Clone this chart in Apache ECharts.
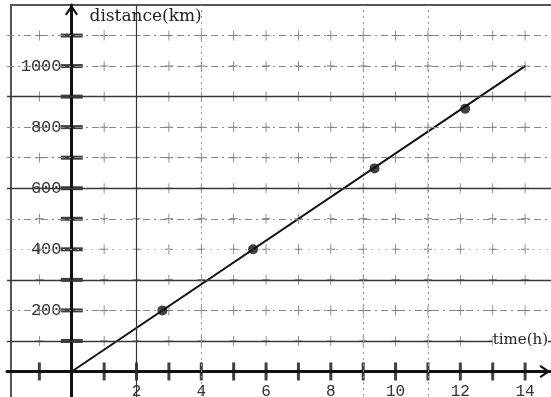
<!DOCTYPE html>
<html>
<head>
<meta charset="utf-8">
<script src="https://cdn.jsdelivr.net/npm/echarts@6/dist/echarts.min.js"></script>
<style>
html, body { margin: 0; padding: 0; background: #fff; }
#main { width: 551px; height: 397px; }
</style>
</head>
<body>
<div id="main"></div>
<script>
// axis ticks / labels
var timeTicks = [-1, 1, 2, 3, 4, 5, 6, 7, 8, 9, 10, 11, 12, 13, 14];
var timeLabels = [2, 4, 6, 8, 10, 12, 14];
var distTicks = [100, 200, 300, 400, 500, 600, 700, 800, 900, 1000, 1100];
var distLabels = [200, 400, 600, 800, 1000];
// grid look of the scan
var solidRows = [100, 300, 600, 900];
var faintRows = [400];
var solidCols = [2];
var dottedCols = [4, 9, 11];
// the line and its marked points
var lineTime = [0, 14];
var lineDist = [0, 1000];
var dotTime = [2.8, 5.6, 9.35, 12.15];
var dotDist = [200, 400, 665, 860];

var chart = echarts.init(document.getElementById('main'), null, { renderer: 'canvas' });

var crosses = [];
timeTicks.forEach(function (t) {
    distTicks.forEach(function (d) { crosses.push([t, d]); });
});

var gridLines = [];
distTicks.forEach(function (d) {
    var st;
    if (solidRows.indexOf(d) >= 0) st = { color: '#3a3a3a', width: 1.4, type: 'solid' };
    else if (faintRows.indexOf(d) >= 0) st = { color: '#bbb', width: 1, type: [2, 5] };
    else st = { color: '#888', width: 1, type: [7, 4, 2, 4] };
    gridLines.push({ yAxis: d, lineStyle: st });
});
solidCols.forEach(function (t) {
    gridLines.push({ xAxis: t, lineStyle: { color: '#333', width: 1.2, type: 'solid' } });
});
dottedCols.forEach(function (t) {
    gridLines.push({ xAxis: t, lineStyle: { color: '#999', width: 1, type: [2, 4] } });
});

var arrow = 'path://M0,9 L6,0 L12,9 L10.5,10.2 L6,3.6 L1.5,10.2 Z';

chart.setOption({
    animation: false,
    backgroundColor: '#fff',
    grid: { left: 7, right: 0, top: 5, bottom: -5, containLabel: false, outerBoundsMode: 'none' },
    xAxis: {
        type: 'value', min: -2, max: 14.8, interval: 1,
        position: 'bottom', offset: -30.5,
        axisLine: {
            onZero: false, lineStyle: { color: '#111', width: 3 },
            symbol: ['none', arrow], symbolSize: [14, 11], symbolOffset: [0, -6]
        },
        axisTick: { show: false },
        splitLine: { show: false },
        axisLabel: {
            margin: 12, fontFamily: 'Liberation Mono', fontSize: 16, color: '#333',
            formatter: function (v) { return timeLabels.indexOf(v) >= 0 ? String(v) : ''; }
        }
    },
    yAxis: {
        type: 'value', min: -100, max: 1200, interval: 100,
        position: 'left', offset: -64.5,
        name: 'distance(km)', nameLocation: 'end', nameGap: -12,
        nameTextStyle: {
            fontFamily: 'DejaVu Serif', fontSize: 17, color: '#222',
            align: 'left', verticalAlign: 'middle', padding: [0, 0, 0, 18]
        },
        axisLine: {
            onZero: false, lineStyle: { color: '#111', width: 3 },
            symbol: ['none', arrow], symbolSize: [16, 11], symbolOffset: [0, -5]
        },
        axisTick: { show: false },
        splitLine: { show: false },
        axisLabel: {
            margin: 10, fontFamily: 'Liberation Mono', fontSize: 17, color: '#333',
            formatter: function (v) { return distLabels.indexOf(v) >= 0 ? String(v) : ''; }
        }
    },
    graphic: [{
        type: 'polyline', silent: true, z: 0,
        shape: { points: [[11, 397], [11, 5], [551, 5]] },
        style: { stroke: '#555', lineWidth: 2, fill: null }
    }, {
        type: 'text', silent: true, z: 10, right: 3, top: 333,
        style: { text: 'time(h)', font: '15px "DejaVu Serif"', fill: '#222', backgroundColor: '#fff' }
    }],
    series: [
        {
            type: 'scatter', name: 'grid', silent: true, z: 1,
            symbol: 'path://M9,0H11V9H20V11H11V20H9V11H0V9H9Z', symbolSize: [8, 10],
            itemStyle: { color: '#555' },
            data: crosses,
            markLine: { silent: true, symbol: 'none', label: { show: false }, data: gridLines }
        },
        {
            type: 'scatter', name: 'xticks', silent: true, z: 3,
            symbol: 'rect', symbolSize: [3, 18], itemStyle: { color: '#111' },
            data: timeTicks.map(function (t) { return [t, 0]; })
        },
        {
            type: 'scatter', name: 'yticks', silent: true, z: 3,
            symbol: 'rect', symbolSize: [22, 4], itemStyle: { color: '#111' },
            data: distTicks.map(function (d) { return [0, d]; })
        },
        {
            type: 'line', name: 'distance', z: 4, showSymbol: false,
            lineStyle: { color: '#111', width: 2 },
            data: lineTime.map(function (t, i) { return [t, lineDist[i]]; })
        },
        {
            type: 'scatter', name: 'points', z: 5,
            symbol: 'circle', symbolSize: 10, itemStyle: { color: '#111' },
            data: dotTime.map(function (t, i) { return [t, dotDist[i]]; })
        }
    ]
});
</script>
</body>
</html>
